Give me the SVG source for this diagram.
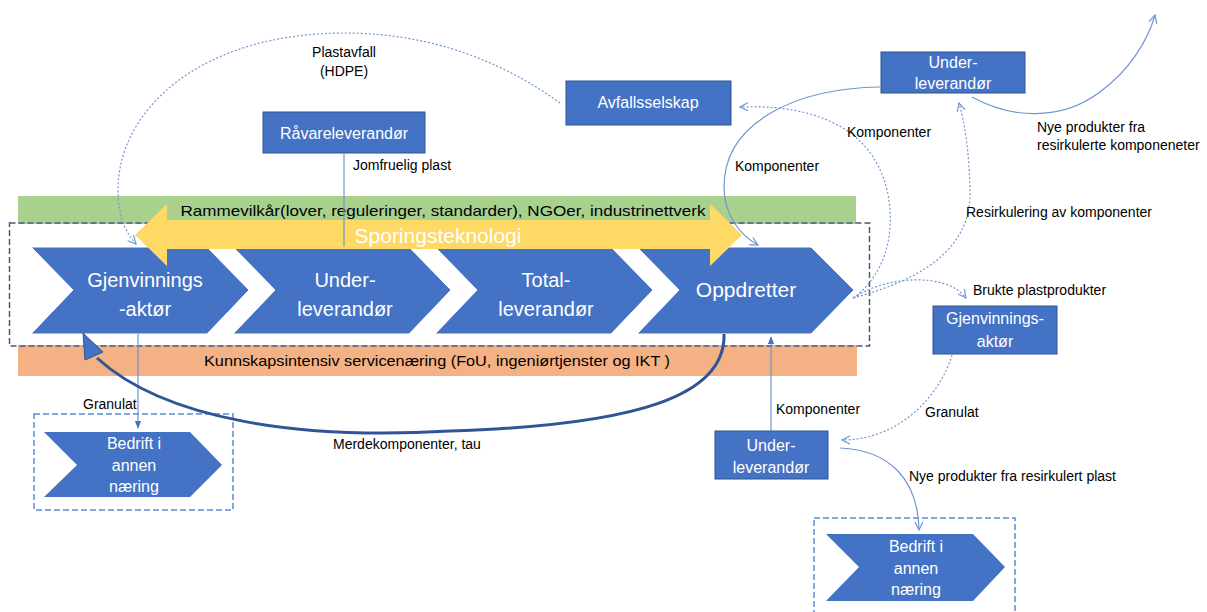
<svg xmlns="http://www.w3.org/2000/svg" width="1207" height="612" viewBox="0 0 1207 612">
<defs>
<style>
.box{fill:#4472C4;stroke:#2F528F;stroke-width:1}
.chev{fill:#4472C4;stroke:#ffffff;stroke-width:1}
.wt{font-family:"Liberation Sans",Arial,sans-serif;fill:#ffffff;text-anchor:middle}
.lb{font-family:"Liberation Sans",Arial,sans-serif;fill:#000000;font-size:14px}
.c{fill:none;stroke:#7096D1;stroke-width:1.2}
.d{fill:none;stroke:#7096D1;stroke-width:1.2;stroke-dasharray:2 2}
.grp{fill:none;stroke:#5B8BD8;stroke-width:1.5;stroke-dasharray:6 3}
</style>
<marker id="open" viewBox="0 0 10 10" refX="9" refY="5" markerWidth="10" markerHeight="10" orient="auto" markerUnits="userSpaceOnUse">
<path d="M1,1 L9,5 L1,9" fill="none" stroke="#7096D1" stroke-width="1.2"/>
</marker>
<marker id="tri" viewBox="0 0 10 10" refX="9" refY="5" markerWidth="8" markerHeight="8" orient="auto" markerUnits="userSpaceOnUse">
<path d="M0,1 L10,5 L0,9 z" fill="#4472C4"/>
</marker>
</defs>
<rect width="1207" height="612" fill="#ffffff"/>

<g id="rammevilkar">
<rect x="18" y="196" width="838" height="28" fill="#A9D18E"/>
</g>
<g id="kunnskap">
<rect x="18" y="345" width="839" height="31" fill="#F4B183"/>
<text x="437" y="366" font-family="Liberation Sans, Arial, sans-serif" font-size="15" text-anchor="middle" textLength="466" lengthAdjust="spacingAndGlyphs">Kunnskapsintensiv servicenæring (FoU, ingeniørtjenster og IKT )</text>
</g>
<g id="verdikjede-ramme">
<rect x="9.5" y="223" width="860" height="123" fill="none" stroke="#4A5A84" stroke-width="1.5" stroke-dasharray="6 3"/>
</g>

<g id="gjenvinningsaktor">
<polygon class="chev" points="31,247 207,247 249,290 207,334 31,334 73,290"/>
<text class="wt" font-size="20"><tspan x="145" y="287">Gjenvinnings</tspan><tspan x="145" y="316">-aktør</tspan></text>
</g>
<g id="underleverandor">
<polygon class="chev" points="233,247 409,247 451,290 409,334 233,334 275,290"/>
<text class="wt" font-size="20"><tspan x="345" y="287">Under-</tspan><tspan x="345" y="316">leverandør</tspan></text>
</g>
<g id="totalleverandor">
<polygon class="chev" points="435,247 611,247 653,290 611,334 435,334 477,290"/>
<text class="wt" font-size="20"><tspan x="546" y="287">Total-</tspan><tspan x="546" y="316">leverandør</tspan></text>
</g>
<g id="oppdretter">
<polygon class="chev" points="637,247 811,247 854,290 811,334 637,334 679,290"/>
<text class="wt" font-size="21" x="746" y="297">Oppdretter</text>
</g>

<g id="sporingsteknologi">
<polygon points="135,235 167,204 167,220 710,220 710,204 742,235 710,266 710,249 167,249 167,266" fill="#FFD966"/>
<text class="wt" font-size="21" x="438" y="243">Sporingsteknologi</text>
</g>
<g id="rammevilkar-tekst">
<text x="443" y="216" font-family="Liberation Sans, Arial, sans-serif" font-size="15" text-anchor="middle" textLength="525" lengthAdjust="spacingAndGlyphs">Rammevilkår(lover, reguleringer, standarder), NGOer, industrinettverk</text>
</g>

<g id="ravareleverandor">
<rect class="box" x="263" y="112" width="162" height="41"/>
<text class="wt" font-size="16" x="344" y="139">Råvareleverandør</text>
</g>
<g id="avfallsselskap">
<rect class="box" x="566" y="81" width="165" height="44"/>
<text class="wt" font-size="16" x="648" y="108">Avfallsselskap</text>
</g>
<g id="underleverandor-topp">
<rect class="box" x="881" y="52" width="144" height="41"/>
<text class="wt" font-size="16"><tspan x="953" y="68">Under-</tspan><tspan x="953" y="89">leverandør</tspan></text>
</g>
<g id="gjenvinningsaktor-hoyre">
<rect class="box" x="933" y="306" width="124" height="48"/>
<text class="wt" font-size="16"><tspan x="995" y="324">Gjenvinnings-</tspan><tspan x="995" y="347">aktør</tspan></text>
</g>
<g id="underleverandor-bunn">
<rect class="box" x="715" y="431" width="113" height="48"/>
<text class="wt" font-size="16"><tspan x="771" y="451">Under-</tspan><tspan x="771" y="473">leverandør</tspan></text>
</g>
<g id="bedrift-venstre">
<rect class="grp" x="34" y="414" width="199" height="96"/>
<polygon fill="#4472C4" points="44,432 190,432 222,465 190,497 44,497 77,465"/>
<text class="wt" font-size="16"><tspan x="134" y="449">Bedrift i</tspan><tspan x="134" y="471">annen</tspan><tspan x="134" y="492">næring</tspan></text>
</g>
<g id="bedrift-hoyre">
<rect class="grp" x="814" y="518" width="201" height="100"/>
<polygon fill="#4472C4" points="826,534 973,534 1005,567 973,601 826,601 859,567"/>
<text class="wt" font-size="16"><tspan x="916" y="552">Bedrift i</tspan><tspan x="916" y="574">annen</tspan><tspan x="916" y="595">næring</tspan></text>
</g>

<g id="connectors">
<path class="d" d="M560,103 C480,45 400,33 345,33 C200,33 118,110 118,190 C118,215 125,232 136,244" marker-end="url(#open)"/>
<path class="c" d="M344,153 V247"/>
<path class="c" d="M880,87 C800,88 724,120 724,187 C724,215 740,235 758,245" marker-end="url(#open)"/>
<path class="d" d="M853,298 C900,265 900,190 868,150 C840,115 790,105 740,107" marker-end="url(#open)"/>
<path class="d" d="M853,298 C920,280 972,250 970,190 C969,150 965,125 959,103" marker-end="url(#open)"/>
<path class="d" d="M854,298 C880,278 945,270 966,298" marker-end="url(#open)"/>
<path class="c" d="M972,97 C1010,118 1060,122 1100,92 C1130,70 1148,40 1155,15" marker-end="url(#open)"/>
<path class="d" d="M952,355 C940,395 900,440 842,440" marker-end="url(#open)"/>
<path class="c" d="M840,448 C890,450 918,480 919,530" marker-end="url(#open)"/>
<path class="c" d="M771,431 V337" marker-end="url(#tri)"/>
<path class="c" d="M138,334 V428" marker-end="url(#tri)"/>
<path d="M724,334 C726,395 640,425 450,431 C300,440 165,420 97,358" fill="none" stroke="#2F5597" stroke-width="3"/>
<polygon points="83,333 85,360 103,352" fill="#4472C4" stroke="#2F5597" stroke-width="1"/>
</g>

<g id="labels">
<text class="lb" x="344" y="57" text-anchor="middle">Plastavfall</text>
<text class="lb" x="344" y="76" text-anchor="middle">(HDPE)</text>
<text class="lb" x="353" y="170">Jomfruelig plast</text>
<text class="lb" x="735" y="171">Komponenter</text>
<text class="lb" x="847" y="137">Komponenter</text>
<text class="lb" x="966" y="217">Resirkulering av komponenter</text>
<text class="lb" x="973" y="295">Brukte plastprodukter</text>
<text class="lb" x="1037" y="132">Nye produkter fra</text>
<text class="lb" x="1037" y="150">resirkulerte komponeneter</text>
<text class="lb" x="925" y="417">Granulat</text>
<text class="lb" x="776" y="414">Komponenter</text>
<text class="lb" x="909" y="481">Nye produkter fra resirkulert plast</text>
<text class="lb" x="83" y="409">Granulat</text>
<text class="lb" x="333" y="449">Merdekomponenter, tau</text>
</g>
</svg>
